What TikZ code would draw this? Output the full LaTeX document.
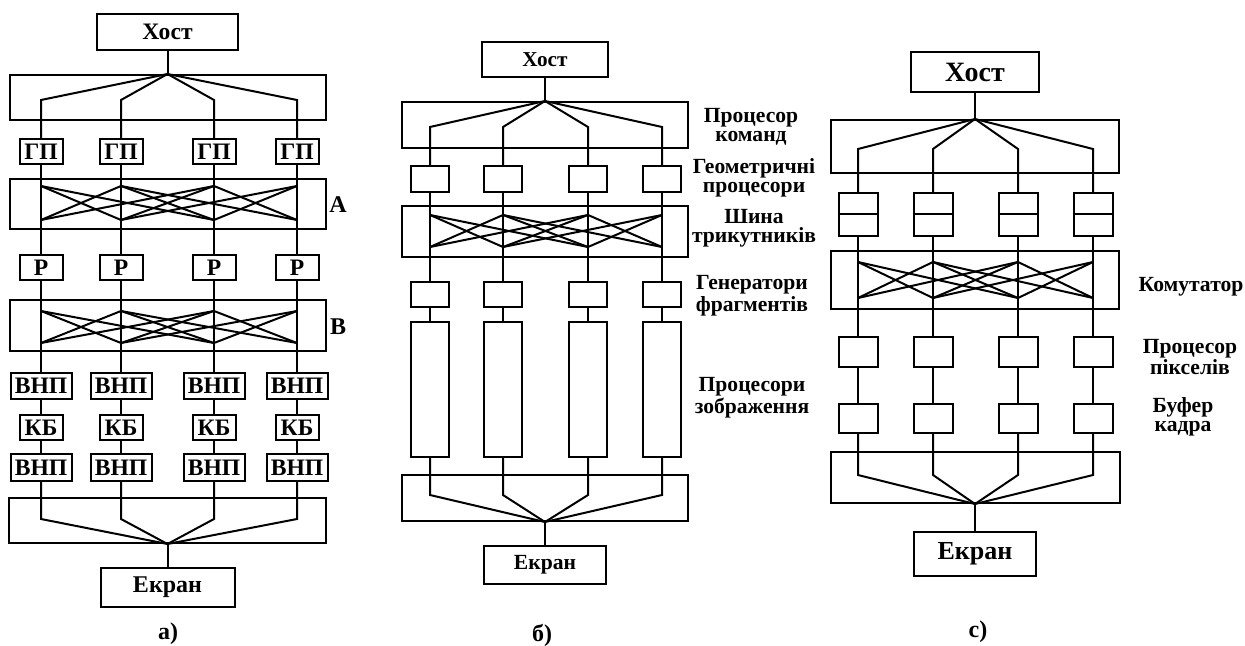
\documentclass[tikz,border=0pt]{standalone}
\usepackage{fontspec}
\setmainfont{Liberation Serif}
\begin{document}
\begin{tikzpicture}[x=0.5pt, y=-0.5pt, line width=1pt,
    box/.style={draw, rectangle, inner sep=0pt, font=\fontsize{11.8}{12}\selectfont\bfseries},
    bus/.style={draw, rectangle, inner sep=0pt},
    side/.style={align=center, inner sep=0pt, font={\fontsize{10.8}{9.4}\selectfont\bfseries}},
    captxt/.style={inner sep=0pt, font=\fontsize{12}{12}\selectfont\bfseries}]
    \useasboundingbox (0,0) rectangle (1245,646);

    \begin{scope}[shift={(167.5,0)}]
        \node[box, minimum width=70.5pt, minimum height=18pt] (hostA) at (0,32) {Хост};
        \node[bus, minimum width=158pt, minimum height=22.5pt] (cmdA) at (0,97.5) {};
        \node[bus, minimum width=158pt, minimum height=25pt] (swA) at (0,204) {};
        \node[bus, minimum width=158pt, minimum height=25.5pt] (swB) at (0,325.5) {};
        \node[bus, minimum width=158.5pt, minimum height=22.5pt] (outA) at (0,520.5) {};
        \node[box, font=\fontsize{12}{12}\selectfont\bfseries, minimum width=67pt, minimum height=19.5pt] (scrA) at (0,587.5) {Екран};

        \begin{scope}[every node/.style={box, minimum width=21.5pt, minimum height=12.5pt}]
            \foreach \c [count=\i] in {-126.5,-46.5,46.5,129.5} {
                \node (gpA\i) at (\c,151.5) {ГП};
                \node (rA\i) at (\c,267.5) {Р};
                \node[minimum width=30.5pt, minimum height=13pt] (vaA\i) at (\c,386) {ВНП};
                \node (kbA\i) at (\c,427.5) {КБ};
                \node[minimum width=30.5pt, minimum height=13.5pt] (vbA\i) at (\c,467.5) {ВНП};
                \coordinate (ftA\i) at (\c,100);
                \coordinate (fbA\i) at (\c,519);
                \coordinate (tA\i) at (\c,186);
                \coordinate (bA\i) at (\c,220);
                \coordinate (tB\i) at (\c,311);
                \coordinate (bB\i) at (\c,343);
            }
        \end{scope}

        \draw (hostA) -- (cmdA.north);
        \foreach \i in {1,...,4} {
            \draw (cmdA.north) -- (ftA\i) -- (gpA\i);
            \draw (gpA\i) -- (rA\i);
            \draw (rA\i) -- (vaA\i);
            \draw (vaA\i) -- (kbA\i);
            \draw (kbA\i) -- (vbA\i);
            \draw (vbA\i) -- (fbA\i) -- (outA.south);
        }
        \foreach \i/\j in {1/2,1/3,2/1,2/3,2/4,3/1,3/2,3/4,4/2,4/3} {
            \draw (tA\i) -- (bA\j);
            \draw (tB\i) -- (bB\j);
        }
        \draw (outA.south) -- (scrA);

        \node[captxt] (lblA) at (170.5,205) {А};
        \node[captxt] (lblB) at (170.5,327) {В};
        \node[captxt] (capA) at (0.5,634) {а)};
    \end{scope}

    \begin{scope}[shift={(545,0)}]
        \node[box, font=\fontsize{10.6}{12}\selectfont\bfseries, minimum width=63pt, minimum height=17.5pt] (hostB) at (0,59.5) {Хост};
        \node[bus, minimum width=143pt, minimum height=23pt] (cmdB) at (0,125) {};
        \node[bus, minimum width=143pt, minimum height=25.5pt] (triB) at (0,231.5) {};
        \node[bus, minimum width=143pt, minimum height=23pt] (outB) at (0,498) {};
        \node[box, font=\fontsize{10.8}{12}\selectfont\bfseries, minimum width=61pt, minimum height=19pt] (scrB) at (0,565) {Екран};

        \begin{scope}[every node/.style={box, minimum width=19pt, minimum height=12.5pt}]
            \foreach \c [count=\i] in {-115,-42,43,117} {
                \node[minimum height=13pt] (geoB\i) at (\c,179) {};
                \node (frB\i) at (\c,294.5) {};
                \node[minimum height=67.5pt] (imgB\i) at (\c,389.5) {};
                \coordinate (ftB\i) at (\c,127);
                \coordinate (fbB\i) at (\c,495);
                \coordinate (tT\i) at (\c,215);
                \coordinate (bT\i) at (\c,247);
            }
        \end{scope}

        \draw (hostB) -- (cmdB.north);
        \foreach \i in {1,...,4} {
            \draw (cmdB.north) -- (ftB\i) -- (geoB\i);
            \draw (geoB\i) -- (frB\i);
            \draw (frB\i) -- (imgB\i);
            \draw (imgB\i) -- (fbB\i) -- (outB.south);
        }
        \foreach \i/\j in {1/2,1/3,2/1,2/3,2/4,3/1,3/2,3/4,4/2,4/3} {
            \draw (tT\i) -- (bT\j);
        }
        \draw (outB.south) -- (scrB);

        \node[side] (lcmdB) at (206,127) {Процесор\\команд};
        \node[side] (lgeoB) at (209,178) {Геометричні\\процесори};
        \node[side] (ltriB) at (209,228) {Шина\\трикутників};
        \node[side] (lfrB) at (207,296) {Генератори\\фрагментів};
        \node[side] (limgB) at (207,398) {Процесори\\зображення};
        \node[captxt] (capB) at (-3,635) {б)};
    \end{scope}

    \begin{scope}[shift={(975,0)}]
        \node[box, font=\fontsize{14}{14}\selectfont\bfseries, minimum width=64pt, minimum height=20pt] (hostC) at (0,72) {Хост};
        \node[bus, minimum width=144pt, minimum height=26.5pt] (cmdC) at (0,146.5) {};
        \node[bus, minimum width=144pt, minimum height=29pt] (comC) at (0,280) {};
        \node[bus, minimum width=144.5pt, minimum height=25.5pt] (outC) at (0,477.5) {};
        \node[box, font=\fontsize{13}{13}\selectfont\bfseries, minimum width=61pt, minimum height=22pt] (scrC) at (0,554) {Екран};

        \begin{scope}[every node/.style={box, minimum width=19.5pt, minimum height=15pt}]
            \foreach \c [count=\i] in {-117,-42,43,118} {
                \node[minimum height=21.5pt] (geoC\i) at (\c,214.5) {};
                \node (pxC\i) at (\c,352) {};
                \node[minimum height=14.5pt] (fbufC\i) at (\c,418.5) {};
                \coordinate (ftC\i) at (\c,149);
                \coordinate (fbC\i) at (\c,475);
                \coordinate (tC\i) at (\c,262);
                \coordinate (bC\i) at (\c,298);
            }
        \end{scope}

        \draw (hostC) -- (cmdC.north);
        \foreach \i in {1,...,4} {
            \draw (cmdC.north) -- (ftC\i) -- (geoC\i);
            \draw (geoC\i.west) -- (geoC\i.east);
            \draw (geoC\i) -- (pxC\i);
            \draw (pxC\i) -- (fbufC\i);
            \draw (fbufC\i) -- (fbC\i) -- (outC.south);
        }
        \foreach \i/\j in {1/2,1/3,2/1,2/3,2/4,3/1,3/2,3/4,4/2,4/3} {
            \draw (tC\i) -- (bC\j);
        }
        \draw (outC.south) -- (scrC);

        \node[side] (lcomC) at (216,287) {Комутатор};
        \node[side] (lpxC) at (215,357) {Процесор\\пікселів};
        \node[side] (lbufC) at (208,417) {Буфер\\кадра};
        \node[captxt] (capC) at (3,632) {c)};
    \end{scope}
\end{tikzpicture}
\end{document}
